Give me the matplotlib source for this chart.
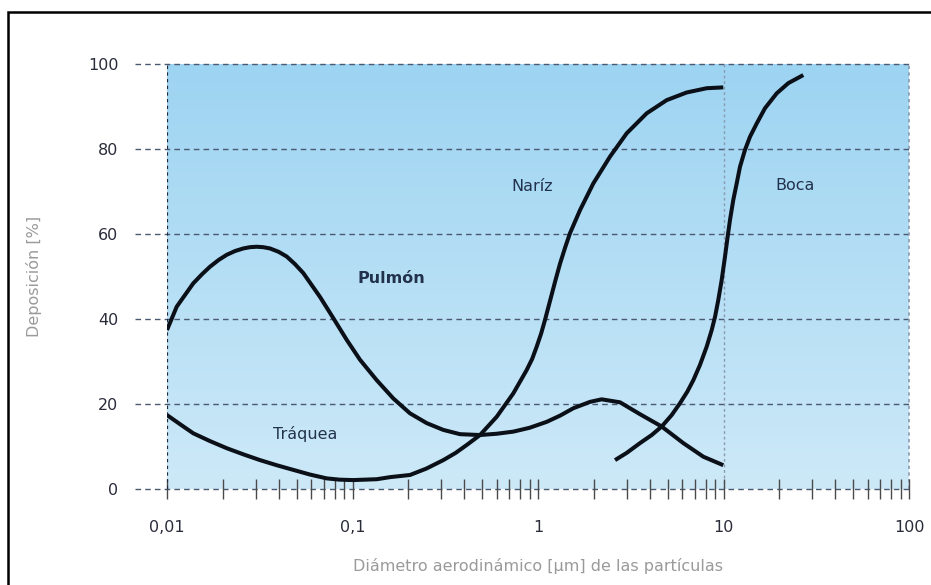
import matplotlib
matplotlib.use('Agg')
import matplotlib.pyplot as plt
import numpy as np
from matplotlib.colors import LinearSegmentedColormap
from matplotlib.patches import Rectangle

# curve values (x in µm, y in %)
pulmon_x = [0.01, 0.01128, 0.01386, 0.0155, 0.01705, 0.019, 0.02098, 0.0233,
            0.02578, 0.028, 0.03045, 0.033, 0.03592, 0.040, 0.04419, 0.049,
            0.0543, 0.060, 0.06679, 0.07882, 0.09305, 0.1098, 0.1351, 0.166,
            0.2042, 0.2512, 0.3088, 0.3797, 0.4868, 0.599, 0.736, 0.9, 1.114,
            1.32, 1.55, 1.907, 2.204, 2.767, 3.547, 4.643, 6.072, 7.783, 9.975]
pulmon_y = [37.4, 42.9, 48.4, 50.6, 52.3, 53.9, 55.1, 56.0,
            56.6, 56.9, 57.0, 56.9, 56.6, 55.8, 54.7, 52.9,
            50.8, 48.1, 45.2, 40.2, 35.1, 30.4, 25.6, 21.3,
            17.8, 15.5, 13.9, 12.9, 12.7, 13.0, 13.5, 14.4, 15.8,
            17.3, 19.0, 20.5, 21.1, 20.4, 17.6, 14.7, 10.8, 7.6, 5.6]

nariz_x = [0.01, 0.0118, 0.01386, 0.017, 0.02098, 0.026, 0.03172, 0.039,
           0.04792, 0.059, 0.07255, 0.085, 0.101, 0.1351, 0.16, 0.2042, 0.25,
           0.3088, 0.36, 0.4141, 0.4868, 0.599, 0.736, 0.869, 0.93, 0.984,
           1.04, 1.091, 1.186, 1.24, 1.314, 1.40, 1.488, 1.684, 1.987, 2.444,
           3.008, 3.855, 4.941, 6.333, 8.117, 9.975]
nariz_y = [17.4, 15.2, 13.1, 11.3, 9.6, 8.1, 6.8, 5.6,
           4.5, 3.4, 2.5, 2.2, 2.1, 2.3, 2.8, 3.3, 4.8,
           6.8, 8.5, 10.4, 12.7, 17.0, 22.5, 28.0, 30.6, 33.5,
           36.6, 39.8, 45.8, 49.0, 53.0, 56.8, 60.2, 65.6, 71.9, 78.2,
           83.7, 88.4, 91.5, 93.3, 94.3, 94.5]

boca_x = [2.602, 3.008, 3.547, 4.102, 4.643, 5.257, 5.83, 6.381, 6.875,
          7.469, 8.117, 8.638, 9.0, 9.376, 9.779, 10.19, 10.53, 10.84,
          11.29, 11.78, 12.27, 13.06, 13.9, 15.1, 16.74, 19.36, 22.36, 26.93]
boca_y = [6.8, 8.5, 10.8, 12.7, 14.7, 17.4, 20.2, 22.9, 25.6,
          29.2, 33.5, 37.4, 40.5, 44.5, 49.2, 54.7, 59.4, 63.3,
          68.0, 71.9, 75.8, 79.8, 82.9, 86.0, 89.6, 93.1, 95.5, 97.4]

region_labels = ['Pulmón', 'Tráquea', 'Naríz', 'Boca']
label_x = [0.163, 0.0555, 0.925, 24.3]
label_y = [49.6, 13.0, 71.1, 71.5]

y_ticks = [0, 20, 40, 60, 80, 100]
x_major = [0.01, 0.1, 1, 10, 100]
x_major_labels = ['0,01', '0,1', '1', '10', '100']

plt.rcParams['font.family'] = ['DejaVu Sans']

fig = plt.figure(figsize=(9.31, 5.85), dpi=100)
ax = fig.add_axes([167 / 931, 1 - 489 / 585, 742 / 931, 425 / 585])

# frame round the whole picture (cut at right and bottom)
fig.patches.append(Rectangle((8 / 931, -0.05), 1.2, 1 - 12 / 585 + 0.05,
                             transform=fig.transFigure, fill=False,
                             edgecolor='black', linewidth=1.8))

# blue gradient background
cmap = LinearSegmentedColormap.from_list('bg', ['#cde9f8', '#9dd4f2'])
grad = np.linspace(0, 1, 256).reshape(-1, 1)
ax.imshow(grad, extent=[0, 1, 0, 1], transform=ax.transAxes, origin='lower',
          aspect='auto', cmap=cmap, zorder=0)

ax.set_xscale('log')
ax.set_xlim(0.01, 100)
ax.set_ylim(0, 100)
for s in ax.spines.values():
    s.set_visible(False)

# horizontal dashed grid reaching past the left edge
ax.hlines(y_ticks, -0.043, 1, transform=ax.get_yaxis_transform(), clip_on=False,
          colors='#4a5870', linestyles=(0, (4, 3)), linewidth=1, zorder=1)
ax.axvline(0.01, color='#1e2a3c', linestyle=(0, (1.5, 1.5)), linewidth=1.6, zorder=2)
ax.axvline(10, color='#8a9aae', linestyle=(0, (2, 2)), linewidth=1, zorder=1)
ax.axvline(100, color='#8a9aae', linestyle=(0, (2, 2)), linewidth=1.2, zorder=1,
           clip_on=False)

line_kw = dict(color='#0b1018', linewidth=2.9, solid_capstyle='butt',
               solid_joinstyle='round', zorder=3)
ax.plot(pulmon_x, pulmon_y, **line_kw)
ax.plot(nariz_x, nariz_y, **line_kw)
ax.plot(boca_x, boca_y, **line_kw)

for txt, lx, ly in zip(region_labels, label_x, label_y):
    ax.text(lx, ly, txt, ha='center', va='center', fontsize=11.5,
            color='#22324c', fontweight='bold' if txt == 'Pulmón' else 'normal',
            zorder=4)

ax.set_yticks(y_ticks)
ax.set_yticklabels([str(v) for v in y_ticks])
ax.tick_params(axis='y', length=0, pad=35, labelsize=11.5, labelcolor='#2a2c3a')

ax.set_xticks(x_major)
ax.set_xticklabels(x_major_labels)
ax.tick_params(axis='x', which='both', direction='inout', length=14, width=1,
               color='#4a4a4a', labelsize=11.5, labelcolor='#2a2c3a', pad=15)
ax.tick_params(axis='x', which='minor', labelbottom=False)

ax.set_xlabel('Diámetro aerodinámico [µm] de las partículas', fontsize=11.5,
              color='#9a9a9a', labelpad=17)
ax.set_ylabel('Deposición [%]', fontsize=11.5, color='#9a9a9a', labelpad=33)

fig.savefig('out.png', dpi=100)
